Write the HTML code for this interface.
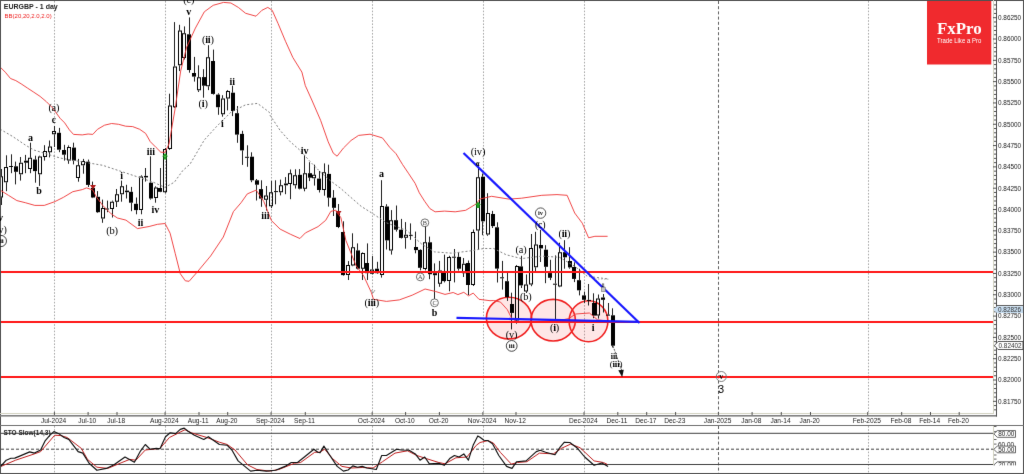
<!DOCTYPE html><html><head><meta charset="utf-8"><style>html,body{margin:0;padding:0;background:#fff;}body{width:1024px;height:474px;overflow:hidden;position:relative;}#wrap{position:absolute;left:0;top:0;width:1024px;height:474px;will-change:transform;}svg{display:block;position:absolute;left:0;top:0;}text{font-family:"Liberation Sans",sans-serif;}.ser{font-family:"Liberation Serif",serif;}</style></head><body>
<div id="wrap">
<svg width="1024" height="474" viewBox="0 0 1024 474">
<defs><filter id="soft" x="0" y="0" width="1024" height="474" filterUnits="userSpaceOnUse" color-interpolation-filters="sRGB"><feConvolveMatrix order="3" kernelMatrix="0 1 0 1 12 1 0 1 0" divisor="16" edgeMode="duplicate"/></filter></defs>
<g filter="url(#soft)">
<rect x="0" y="0" width="1024" height="474" fill="#ffffff"/>
<line x1="54.5" y1="1" x2="54.5" y2="413" stroke="#a8a8a8" stroke-width="1" stroke-dasharray="1.6,1.6"/>
<line x1="54.5" y1="426" x2="54.5" y2="473" stroke="#a8a8a8" stroke-width="1" stroke-dasharray="1.6,1.6"/>
<line x1="165.5" y1="1" x2="165.5" y2="413" stroke="#a8a8a8" stroke-width="1" stroke-dasharray="1.6,1.6"/>
<line x1="165.5" y1="426" x2="165.5" y2="473" stroke="#a8a8a8" stroke-width="1" stroke-dasharray="1.6,1.6"/>
<line x1="271.5" y1="1" x2="271.5" y2="413" stroke="#a8a8a8" stroke-width="1" stroke-dasharray="1.6,1.6"/>
<line x1="271.5" y1="426" x2="271.5" y2="473" stroke="#a8a8a8" stroke-width="1" stroke-dasharray="1.6,1.6"/>
<line x1="372.5" y1="1" x2="372.5" y2="413" stroke="#a8a8a8" stroke-width="1" stroke-dasharray="1.6,1.6"/>
<line x1="372.5" y1="426" x2="372.5" y2="473" stroke="#a8a8a8" stroke-width="1" stroke-dasharray="1.6,1.6"/>
<line x1="483.5" y1="1" x2="483.5" y2="413" stroke="#a8a8a8" stroke-width="1" stroke-dasharray="1.6,1.6"/>
<line x1="483.5" y1="426" x2="483.5" y2="473" stroke="#a8a8a8" stroke-width="1" stroke-dasharray="1.6,1.6"/>
<line x1="584.5" y1="1" x2="584.5" y2="413" stroke="#a8a8a8" stroke-width="1" stroke-dasharray="1.6,1.6"/>
<line x1="584.5" y1="426" x2="584.5" y2="473" stroke="#a8a8a8" stroke-width="1" stroke-dasharray="1.6,1.6"/>
<line x1="868.5" y1="1" x2="868.5" y2="413" stroke="#a8a8a8" stroke-width="1" stroke-dasharray="1.6,1.6"/>
<line x1="868.5" y1="426" x2="868.5" y2="473" stroke="#a8a8a8" stroke-width="1" stroke-dasharray="1.6,1.6"/>
<line x1="718.5" y1="1" x2="718.5" y2="413" stroke="#606060" stroke-width="1" stroke-dasharray="3,2.2"/>
<line x1="718.5" y1="426" x2="718.5" y2="473" stroke="#606060" stroke-width="1" stroke-dasharray="3,2.2"/>
<ellipse cx="509" cy="318.1" rx="22.6" ry="20.8" fill="rgba(248,90,90,0.15)" stroke="#f02020" stroke-width="1.6"/>
<ellipse cx="553.2" cy="320.2" rx="22.2" ry="20.8" fill="rgba(248,90,90,0.15)" stroke="#f02020" stroke-width="1.6"/>
<ellipse cx="588.5" cy="321.2" rx="19.4" ry="20.5" fill="rgba(248,90,90,0.15)" stroke="#f02020" stroke-width="1.6"/>
<line x1="1.5" y1="169" x2="1.5" y2="176.3" stroke="#202020" stroke-width="1"/>
<line x1="1.5" y1="197.4" x2="1.5" y2="205" stroke="#202020" stroke-width="1"/>
<path d="M-1,176.3h4v21.1h-4z M0,177.3h2v19.1h-2z" fill="#000" fill-rule="evenodd"/>
<line x1="6.5" y1="155.3" x2="6.5" y2="166.9" stroke="#202020" stroke-width="1"/>
<line x1="6.5" y1="182.3" x2="6.5" y2="191.2" stroke="#202020" stroke-width="1"/>
<path d="M4,166.9h4v15.4h-4z M5,167.9h2v13.4h-2z" fill="#000" fill-rule="evenodd"/>
<line x1="11.5" y1="154.3" x2="11.5" y2="166" stroke="#202020" stroke-width="1"/>
<line x1="11.5" y1="167" x2="11.5" y2="173.2" stroke="#202020" stroke-width="1"/>
<rect x="9" y="166" width="4" height="1" fill="#000"/>
<line x1="15.5" y1="161.6" x2="15.5" y2="166.3" stroke="#202020" stroke-width="1"/>
<line x1="15.5" y1="171.8" x2="15.5" y2="184.4" stroke="#202020" stroke-width="1"/>
<rect x="14" y="166.3" width="4" height="5.5" fill="#000"/>
<line x1="20.5" y1="157" x2="20.5" y2="162.7" stroke="#202020" stroke-width="1"/>
<line x1="20.5" y1="174.3" x2="20.5" y2="180.6" stroke="#202020" stroke-width="1"/>
<path d="M19,162.7h4v11.6h-4z M20,163.7h2v9.6h-2z" fill="#000" fill-rule="evenodd"/>
<line x1="25.5" y1="154.9" x2="25.5" y2="160.7" stroke="#202020" stroke-width="1"/>
<line x1="25.5" y1="162.7" x2="25.5" y2="173.2" stroke="#202020" stroke-width="1"/>
<rect x="24" y="160.7" width="4" height="2" fill="#000"/>
<line x1="30.5" y1="142.7" x2="30.5" y2="157.8" stroke="#202020" stroke-width="1"/>
<line x1="30.5" y1="169" x2="30.5" y2="173.2" stroke="#202020" stroke-width="1"/>
<path d="M28,157.8h4v11.2h-4z M29,158.8h2v9.2h-2z" fill="#000" fill-rule="evenodd"/>
<line x1="35.5" y1="155.7" x2="35.5" y2="159.5" stroke="#202020" stroke-width="1"/>
<line x1="35.5" y1="171.1" x2="35.5" y2="182.7" stroke="#202020" stroke-width="1"/>
<rect x="33" y="159.5" width="4" height="11.6" fill="#000"/>
<line x1="39.5" y1="155.7" x2="39.5" y2="156.4" stroke="#202020" stroke-width="1"/>
<line x1="39.5" y1="174.3" x2="39.5" y2="185.9" stroke="#202020" stroke-width="1"/>
<path d="M38,156.4h4v17.9h-4z M39,157.4h2v15.9h-2z" fill="#000" fill-rule="evenodd"/>
<line x1="44.5" y1="145.2" x2="44.5" y2="151.1" stroke="#202020" stroke-width="1"/>
<line x1="44.5" y1="157" x2="44.5" y2="160.6" stroke="#202020" stroke-width="1"/>
<path d="M43,151.1h4v5.9h-4z M44,152.1h2v3.9h-2z" fill="#000" fill-rule="evenodd"/>
<line x1="49.5" y1="140.5" x2="49.5" y2="146.5" stroke="#202020" stroke-width="1"/>
<line x1="49.5" y1="152.2" x2="49.5" y2="157.4" stroke="#202020" stroke-width="1"/>
<path d="M48,146.5h4v5.7h-4z M49,147.5h2v3.7h-2z" fill="#000" fill-rule="evenodd"/>
<line x1="54.5" y1="126" x2="54.5" y2="131.1" stroke="#202020" stroke-width="1"/>
<line x1="54.5" y1="134.3" x2="54.5" y2="147" stroke="#202020" stroke-width="1"/>
<path d="M52,131.1h4v3.2h-4z M53,132.1h2v1.2h-2z" fill="#000" fill-rule="evenodd"/>
<line x1="59.5" y1="127.9" x2="59.5" y2="132.8" stroke="#202020" stroke-width="1"/>
<line x1="59.5" y1="149.7" x2="59.5" y2="152.2" stroke="#202020" stroke-width="1"/>
<rect x="57" y="132.8" width="4" height="16.9" fill="#000"/>
<line x1="64.5" y1="144.8" x2="64.5" y2="150" stroke="#202020" stroke-width="1"/>
<line x1="64.5" y1="154.7" x2="64.5" y2="160.6" stroke="#202020" stroke-width="1"/>
<rect x="62" y="150" width="4" height="4.7" fill="#000"/>
<line x1="68.5" y1="145.4" x2="68.5" y2="146.9" stroke="#202020" stroke-width="1"/>
<line x1="68.5" y1="160.6" x2="68.5" y2="163.8" stroke="#202020" stroke-width="1"/>
<path d="M67,146.9h4v13.7h-4z M68,147.9h2v11.7h-2z" fill="#000" fill-rule="evenodd"/>
<line x1="73.5" y1="142.7" x2="73.5" y2="147.6" stroke="#202020" stroke-width="1"/>
<line x1="73.5" y1="160.6" x2="73.5" y2="164.4" stroke="#202020" stroke-width="1"/>
<rect x="72" y="147.6" width="4" height="13" fill="#000"/>
<line x1="78.5" y1="158.9" x2="78.5" y2="165.3" stroke="#202020" stroke-width="1"/>
<line x1="78.5" y1="177.9" x2="78.5" y2="181.7" stroke="#202020" stroke-width="1"/>
<path d="M76,165.3h4v12.6h-4z M77,166.3h2v10.6h-2z" fill="#000" fill-rule="evenodd"/>
<line x1="83.5" y1="158.9" x2="83.5" y2="161" stroke="#202020" stroke-width="1"/>
<line x1="83.5" y1="165.3" x2="83.5" y2="173.7" stroke="#202020" stroke-width="1"/>
<path d="M81,161h4v4.3h-4z M82,162h2v2.3h-2z" fill="#000" fill-rule="evenodd"/>
<line x1="88.5" y1="159.6" x2="88.5" y2="161.7" stroke="#202020" stroke-width="1"/>
<line x1="88.5" y1="184.9" x2="88.5" y2="187" stroke="#202020" stroke-width="1"/>
<rect x="86" y="161.7" width="4" height="23.2" fill="#000"/>
<line x1="92.5" y1="181.6" x2="92.5" y2="188" stroke="#202020" stroke-width="1"/>
<line x1="92.5" y1="197.5" x2="92.5" y2="198.1" stroke="#202020" stroke-width="1"/>
<rect x="91" y="188" width="4" height="9.5" fill="#000"/>
<line x1="97.5" y1="191.1" x2="97.5" y2="196.8" stroke="#202020" stroke-width="1"/>
<line x1="97.5" y1="212.2" x2="97.5" y2="212.9" stroke="#202020" stroke-width="1"/>
<rect x="96" y="196.8" width="4" height="15.4" fill="#000"/>
<line x1="102.5" y1="199.6" x2="102.5" y2="208" stroke="#202020" stroke-width="1"/>
<line x1="102.5" y1="218.6" x2="102.5" y2="222.8" stroke="#202020" stroke-width="1"/>
<path d="M101,208h4v10.6h-4z M102,209h2v8.6h-2z" fill="#000" fill-rule="evenodd"/>
<line x1="107.5" y1="200.6" x2="107.5" y2="208.5" stroke="#202020" stroke-width="1"/>
<line x1="107.5" y1="209.5" x2="107.5" y2="212.2" stroke="#202020" stroke-width="1"/>
<rect x="105" y="208.5" width="4" height="1" fill="#000"/>
<line x1="112.5" y1="200.6" x2="112.5" y2="201.7" stroke="#202020" stroke-width="1"/>
<line x1="112.5" y1="209" x2="112.5" y2="217.5" stroke="#202020" stroke-width="1"/>
<path d="M110,201.7h4v7.3h-4z M111,202.7h2v5.3h-2z" fill="#000" fill-rule="evenodd"/>
<line x1="116.5" y1="189" x2="116.5" y2="194.3" stroke="#202020" stroke-width="1"/>
<line x1="116.5" y1="201.7" x2="116.5" y2="207" stroke="#202020" stroke-width="1"/>
<path d="M115,194.3h4v7.4h-4z M116,195.3h2v5.4h-2z" fill="#000" fill-rule="evenodd"/>
<line x1="121.5" y1="180.6" x2="121.5" y2="186.3" stroke="#202020" stroke-width="1"/>
<line x1="121.5" y1="194.3" x2="121.5" y2="201.7" stroke="#202020" stroke-width="1"/>
<path d="M120,186.3h4v8h-4z M121,187.3h2v6h-2z" fill="#000" fill-rule="evenodd"/>
<line x1="126.5" y1="184.8" x2="126.5" y2="190.6" stroke="#202020" stroke-width="1"/>
<line x1="126.5" y1="192.2" x2="126.5" y2="198.5" stroke="#202020" stroke-width="1"/>
<rect x="125" y="190.6" width="4" height="1.6" fill="#000"/>
<line x1="131.5" y1="186.9" x2="131.5" y2="191.8" stroke="#202020" stroke-width="1"/>
<line x1="131.5" y1="202.7" x2="131.5" y2="211.2" stroke="#202020" stroke-width="1"/>
<rect x="129" y="191.8" width="4" height="10.9" fill="#000"/>
<line x1="136.5" y1="197.5" x2="136.5" y2="203.8" stroke="#202020" stroke-width="1"/>
<line x1="136.5" y1="210.1" x2="136.5" y2="214.3" stroke="#202020" stroke-width="1"/>
<rect x="134" y="203.8" width="4" height="6.3" fill="#000"/>
<line x1="141.5" y1="175.3" x2="141.5" y2="176.4" stroke="#202020" stroke-width="1"/>
<line x1="141.5" y1="210.1" x2="141.5" y2="214.3" stroke="#202020" stroke-width="1"/>
<path d="M139,176.4h4v33.7h-4z M140,177.4h2v31.7h-2z" fill="#000" fill-rule="evenodd"/>
<line x1="145.5" y1="168" x2="145.5" y2="175.9" stroke="#202020" stroke-width="1"/>
<line x1="145.5" y1="177.4" x2="145.5" y2="181.6" stroke="#202020" stroke-width="1"/>
<rect x="144" y="175.9" width="4" height="1.5" fill="#000"/>
<line x1="150.5" y1="156.3" x2="150.5" y2="182.7" stroke="#202020" stroke-width="1"/>
<line x1="150.5" y1="198.5" x2="150.5" y2="199.6" stroke="#202020" stroke-width="1"/>
<rect x="149" y="182.7" width="4" height="15.8" fill="#000"/>
<line x1="155.5" y1="186.3" x2="155.5" y2="187.6" stroke="#202020" stroke-width="1"/>
<line x1="155.5" y1="198.1" x2="155.5" y2="202.7" stroke="#202020" stroke-width="1"/>
<path d="M154,187.6h4v10.5h-4z M155,188.6h2v8.5h-2z" fill="#000" fill-rule="evenodd"/>
<line x1="160.5" y1="168" x2="160.5" y2="188" stroke="#202020" stroke-width="1"/>
<line x1="160.5" y1="191.8" x2="160.5" y2="192.2" stroke="#202020" stroke-width="1"/>
<rect x="158" y="188" width="4" height="3.8" fill="#000"/>
<line x1="165.5" y1="148" x2="165.5" y2="149.1" stroke="#202020" stroke-width="1"/>
<line x1="165.5" y1="192.2" x2="165.5" y2="193.2" stroke="#202020" stroke-width="1"/>
<path d="M163,149.1h4v43.1h-4z M164,150.1h2v41.1h-2z" fill="#000" fill-rule="evenodd"/>
<line x1="169.5" y1="93.7" x2="169.5" y2="105.6" stroke="#202020" stroke-width="1"/>
<line x1="169.5" y1="149.1" x2="169.5" y2="150" stroke="#202020" stroke-width="1"/>
<path d="M168,105.6h4v43.5h-4z M169,106.6h2v41.5h-2z" fill="#000" fill-rule="evenodd"/>
<line x1="174.5" y1="22.1" x2="174.5" y2="66.4" stroke="#202020" stroke-width="1"/>
<line x1="174.5" y1="107.2" x2="174.5" y2="108" stroke="#202020" stroke-width="1"/>
<path d="M173,66.4h4v40.8h-4z M174,67.4h2v38.8h-2z" fill="#000" fill-rule="evenodd"/>
<line x1="179.5" y1="24.8" x2="179.5" y2="30.6" stroke="#202020" stroke-width="1"/>
<line x1="179.5" y1="65.3" x2="179.5" y2="71.1" stroke="#202020" stroke-width="1"/>
<path d="M178,30.6h4v34.7h-4z M179,31.6h2v32.7h-2z" fill="#000" fill-rule="evenodd"/>
<line x1="184.5" y1="26.4" x2="184.5" y2="33.2" stroke="#202020" stroke-width="1"/>
<line x1="184.5" y1="58" x2="184.5" y2="59.5" stroke="#202020" stroke-width="1"/>
<path d="M182,33.2h4v24.8h-4z M183,34.2h2v22.8h-2z" fill="#000" fill-rule="evenodd"/>
<line x1="189.5" y1="17.4" x2="189.5" y2="34.3" stroke="#202020" stroke-width="1"/>
<line x1="189.5" y1="70" x2="189.5" y2="72.7" stroke="#202020" stroke-width="1"/>
<rect x="187" y="34.3" width="4" height="35.7" fill="#000"/>
<line x1="194.5" y1="56.9" x2="194.5" y2="73" stroke="#202020" stroke-width="1"/>
<line x1="194.5" y1="76.6" x2="194.5" y2="81.6" stroke="#202020" stroke-width="1"/>
<rect x="192" y="73" width="4" height="3.6" fill="#000"/>
<line x1="198.5" y1="65.3" x2="198.5" y2="77.2" stroke="#202020" stroke-width="1"/>
<line x1="198.5" y1="90.3" x2="198.5" y2="92" stroke="#202020" stroke-width="1"/>
<path d="M197,77.2h4v13.1h-4z M198,78.2h2v11.1h-2z" fill="#000" fill-rule="evenodd"/>
<line x1="203.5" y1="69.2" x2="203.5" y2="77.1" stroke="#202020" stroke-width="1"/>
<line x1="203.5" y1="85.7" x2="203.5" y2="97.7" stroke="#202020" stroke-width="1"/>
<rect x="202" y="77.1" width="4" height="8.6" fill="#000"/>
<line x1="208.5" y1="45.2" x2="208.5" y2="57.2" stroke="#202020" stroke-width="1"/>
<line x1="208.5" y1="86.3" x2="208.5" y2="90.1" stroke="#202020" stroke-width="1"/>
<path d="M206,57.2h4v29.1h-4z M207,58.2h2v27.1h-2z" fill="#000" fill-rule="evenodd"/>
<line x1="213.5" y1="49.6" x2="213.5" y2="61" stroke="#202020" stroke-width="1"/>
<line x1="213.5" y1="93.9" x2="213.5" y2="94.6" stroke="#202020" stroke-width="1"/>
<rect x="211" y="61" width="4" height="32.9" fill="#000"/>
<line x1="218.5" y1="93.3" x2="218.5" y2="94.6" stroke="#202020" stroke-width="1"/>
<line x1="218.5" y1="107.2" x2="218.5" y2="114.8" stroke="#202020" stroke-width="1"/>
<rect x="216" y="94.6" width="4" height="12.6" fill="#000"/>
<line x1="222.5" y1="95.2" x2="222.5" y2="98.4" stroke="#202020" stroke-width="1"/>
<line x1="222.5" y1="114.2" x2="222.5" y2="116.7" stroke="#202020" stroke-width="1"/>
<path d="M221,98.4h4v15.8h-4z M222,99.4h2v13.8h-2z" fill="#000" fill-rule="evenodd"/>
<line x1="227.5" y1="90.1" x2="227.5" y2="91.1" stroke="#202020" stroke-width="1"/>
<line x1="227.5" y1="98.4" x2="227.5" y2="110.4" stroke="#202020" stroke-width="1"/>
<path d="M226,91.1h4v7.3h-4z M227,92.1h2v5.3h-2z" fill="#000" fill-rule="evenodd"/>
<line x1="232.5" y1="85.7" x2="232.5" y2="92.7" stroke="#202020" stroke-width="1"/>
<line x1="232.5" y1="111" x2="232.5" y2="116.1" stroke="#202020" stroke-width="1"/>
<rect x="231" y="92.7" width="4" height="18.3" fill="#000"/>
<line x1="237.5" y1="106" x2="237.5" y2="113.2" stroke="#202020" stroke-width="1"/>
<line x1="237.5" y1="134.6" x2="237.5" y2="142.8" stroke="#202020" stroke-width="1"/>
<rect x="235" y="113.2" width="4" height="21.4" fill="#000"/>
<line x1="242.5" y1="130.8" x2="242.5" y2="133.9" stroke="#202020" stroke-width="1"/>
<line x1="242.5" y1="150.4" x2="242.5" y2="164.9" stroke="#202020" stroke-width="1"/>
<rect x="240" y="133.9" width="4" height="16.5" fill="#000"/>
<line x1="247.5" y1="145.3" x2="247.5" y2="156.8" stroke="#202020" stroke-width="1"/>
<line x1="247.5" y1="157.8" x2="247.5" y2="166.8" stroke="#202020" stroke-width="1"/>
<rect x="245" y="156.8" width="4" height="1" fill="#000"/>
<line x1="251.5" y1="152.3" x2="251.5" y2="156.7" stroke="#202020" stroke-width="1"/>
<line x1="251.5" y1="180.3" x2="251.5" y2="182.2" stroke="#202020" stroke-width="1"/>
<rect x="250" y="156.7" width="4" height="23.6" fill="#000"/>
<line x1="256.5" y1="179" x2="256.5" y2="180.3" stroke="#202020" stroke-width="1"/>
<line x1="256.5" y1="184.7" x2="256.5" y2="200.5" stroke="#202020" stroke-width="1"/>
<rect x="255" y="180.3" width="4" height="4.4" fill="#000"/>
<line x1="261.5" y1="180.3" x2="261.5" y2="189.1" stroke="#202020" stroke-width="1"/>
<line x1="261.5" y1="198.6" x2="261.5" y2="206.8" stroke="#202020" stroke-width="1"/>
<rect x="259" y="189.1" width="4" height="9.5" fill="#000"/>
<line x1="266.5" y1="186" x2="266.5" y2="195.6" stroke="#202020" stroke-width="1"/>
<line x1="266.5" y1="199.8" x2="266.5" y2="210.6" stroke="#202020" stroke-width="1"/>
<path d="M264,195.6h4v4.2h-4z M265,196.6h2v2.2h-2z" fill="#000" fill-rule="evenodd"/>
<line x1="271.5" y1="180.9" x2="271.5" y2="192.3" stroke="#202020" stroke-width="1"/>
<line x1="271.5" y1="206.2" x2="271.5" y2="208.1" stroke="#202020" stroke-width="1"/>
<path d="M269,192.3h4v13.9h-4z M270,193.3h2v11.9h-2z" fill="#000" fill-rule="evenodd"/>
<line x1="275.5" y1="180.3" x2="275.5" y2="191.1" stroke="#202020" stroke-width="1"/>
<line x1="275.5" y1="192.1" x2="275.5" y2="204.3" stroke="#202020" stroke-width="1"/>
<rect x="274" y="191.1" width="4" height="1" fill="#000"/>
<line x1="280.5" y1="179.6" x2="280.5" y2="185.3" stroke="#202020" stroke-width="1"/>
<line x1="280.5" y1="192.3" x2="280.5" y2="195.4" stroke="#202020" stroke-width="1"/>
<path d="M279,185.3h4v7h-4z M280,186.3h2v5h-2z" fill="#000" fill-rule="evenodd"/>
<line x1="285.5" y1="177.1" x2="285.5" y2="183.5" stroke="#202020" stroke-width="1"/>
<line x1="285.5" y1="185.3" x2="285.5" y2="194.2" stroke="#202020" stroke-width="1"/>
<rect x="284" y="183.5" width="4" height="1.8" fill="#000"/>
<line x1="290.5" y1="169.5" x2="290.5" y2="173.3" stroke="#202020" stroke-width="1"/>
<line x1="290.5" y1="184" x2="290.5" y2="199.2" stroke="#202020" stroke-width="1"/>
<path d="M288,173.3h4v10.7h-4z M289,174.3h2v8.7h-2z" fill="#000" fill-rule="evenodd"/>
<line x1="295.5" y1="169.3" x2="295.5" y2="175.3" stroke="#202020" stroke-width="1"/>
<line x1="295.5" y1="185.3" x2="295.5" y2="188.6" stroke="#202020" stroke-width="1"/>
<path d="M293,175.3h4v10h-4z M294,176.3h2v8h-2z" fill="#000" fill-rule="evenodd"/>
<line x1="299.5" y1="169.1" x2="299.5" y2="174.8" stroke="#202020" stroke-width="1"/>
<line x1="299.5" y1="188.7" x2="299.5" y2="189.4" stroke="#202020" stroke-width="1"/>
<rect x="298" y="174.8" width="4" height="13.9" fill="#000"/>
<line x1="304.5" y1="155.2" x2="304.5" y2="173.2" stroke="#202020" stroke-width="1"/>
<line x1="304.5" y1="188.7" x2="304.5" y2="191.3" stroke="#202020" stroke-width="1"/>
<path d="M303,173.2h4v15.5h-4z M304,174.2h2v13.5h-2z" fill="#000" fill-rule="evenodd"/>
<line x1="309.5" y1="162.2" x2="309.5" y2="173.2" stroke="#202020" stroke-width="1"/>
<line x1="309.5" y1="177.7" x2="309.5" y2="181.1" stroke="#202020" stroke-width="1"/>
<rect x="308" y="173.2" width="4" height="4.5" fill="#000"/>
<line x1="314.5" y1="164.7" x2="314.5" y2="174.8" stroke="#202020" stroke-width="1"/>
<line x1="314.5" y1="178.3" x2="314.5" y2="185.6" stroke="#202020" stroke-width="1"/>
<path d="M312,174.8h4v3.5h-4z M313,175.8h2v1.5h-2z" fill="#000" fill-rule="evenodd"/>
<line x1="319.5" y1="171" x2="319.5" y2="178.6" stroke="#202020" stroke-width="1"/>
<line x1="319.5" y1="190" x2="319.5" y2="192.5" stroke="#202020" stroke-width="1"/>
<rect x="317" y="178.6" width="4" height="11.4" fill="#000"/>
<line x1="324.5" y1="163.4" x2="324.5" y2="172.3" stroke="#202020" stroke-width="1"/>
<line x1="324.5" y1="190" x2="324.5" y2="195.7" stroke="#202020" stroke-width="1"/>
<path d="M322,172.3h4v17.7h-4z M323,173.3h2v15.7h-2z" fill="#000" fill-rule="evenodd"/>
<line x1="328.5" y1="164.7" x2="328.5" y2="173.9" stroke="#202020" stroke-width="1"/>
<line x1="328.5" y1="197.7" x2="328.5" y2="206.6" stroke="#202020" stroke-width="1"/>
<rect x="327" y="173.9" width="4" height="23.8" fill="#000"/>
<line x1="333.5" y1="190.1" x2="333.5" y2="197.7" stroke="#202020" stroke-width="1"/>
<line x1="333.5" y1="207.8" x2="333.5" y2="216" stroke="#202020" stroke-width="1"/>
<rect x="332" y="197.7" width="4" height="10.1" fill="#000"/>
<line x1="338.5" y1="204" x2="338.5" y2="212.3" stroke="#202020" stroke-width="1"/>
<line x1="338.5" y1="227" x2="338.5" y2="228.1" stroke="#202020" stroke-width="1"/>
<rect x="336" y="212.3" width="4" height="14.7" fill="#000"/>
<line x1="343.5" y1="221.3" x2="343.5" y2="232" stroke="#202020" stroke-width="1"/>
<line x1="343.5" y1="275.1" x2="343.5" y2="275.7" stroke="#202020" stroke-width="1"/>
<rect x="341" y="232" width="4" height="43.1" fill="#000"/>
<line x1="348.5" y1="261.1" x2="348.5" y2="265" stroke="#202020" stroke-width="1"/>
<line x1="348.5" y1="275.1" x2="348.5" y2="280" stroke="#202020" stroke-width="1"/>
<path d="M346,265h4v10.1h-4z M347,266h2v8.1h-2z" fill="#000" fill-rule="evenodd"/>
<line x1="352.5" y1="233.3" x2="352.5" y2="247.2" stroke="#202020" stroke-width="1"/>
<line x1="352.5" y1="265.6" x2="352.5" y2="266.2" stroke="#202020" stroke-width="1"/>
<path d="M351,247.2h4v18.4h-4z M352,248.2h2v16.4h-2z" fill="#000" fill-rule="evenodd"/>
<line x1="357.5" y1="243.4" x2="357.5" y2="250.4" stroke="#202020" stroke-width="1"/>
<line x1="357.5" y1="268.7" x2="357.5" y2="269.4" stroke="#202020" stroke-width="1"/>
<rect x="356" y="250.4" width="4" height="18.3" fill="#000"/>
<line x1="362.5" y1="252.3" x2="362.5" y2="252.9" stroke="#202020" stroke-width="1"/>
<line x1="362.5" y1="268.7" x2="362.5" y2="280" stroke="#202020" stroke-width="1"/>
<path d="M361,252.9h4v15.8h-4z M362,253.9h2v13.8h-2z" fill="#000" fill-rule="evenodd"/>
<line x1="367.5" y1="243.4" x2="367.5" y2="263" stroke="#202020" stroke-width="1"/>
<line x1="367.5" y1="273.2" x2="367.5" y2="280" stroke="#202020" stroke-width="1"/>
<rect x="365" y="263" width="4" height="10.2" fill="#000"/>
<line x1="372.5" y1="256.1" x2="372.5" y2="269.4" stroke="#202020" stroke-width="1"/>
<line x1="372.5" y1="273.8" x2="372.5" y2="274.4" stroke="#202020" stroke-width="1"/>
<path d="M370,269.4h4v4.4h-4z M371,270.4h2v2.4h-2z" fill="#000" fill-rule="evenodd"/>
<line x1="377.5" y1="261.8" x2="377.5" y2="268.7" stroke="#202020" stroke-width="1"/>
<line x1="377.5" y1="273.2" x2="377.5" y2="273.8" stroke="#202020" stroke-width="1"/>
<rect x="375" y="268.7" width="4" height="4.5" fill="#000"/>
<line x1="381.5" y1="180.2" x2="381.5" y2="206.1" stroke="#202020" stroke-width="1"/>
<line x1="381.5" y1="275.1" x2="381.5" y2="277.6" stroke="#202020" stroke-width="1"/>
<path d="M380,206.1h4v69h-4z M381,207.1h2v67h-2z" fill="#000" fill-rule="evenodd"/>
<line x1="386.5" y1="204.2" x2="386.5" y2="206.5" stroke="#202020" stroke-width="1"/>
<line x1="386.5" y1="240.4" x2="386.5" y2="249.5" stroke="#202020" stroke-width="1"/>
<rect x="385" y="206.5" width="4" height="33.9" fill="#000"/>
<line x1="391.5" y1="210.1" x2="391.5" y2="220.2" stroke="#202020" stroke-width="1"/>
<line x1="391.5" y1="250.6" x2="391.5" y2="254.6" stroke="#202020" stroke-width="1"/>
<path d="M389,220.2h4v30.4h-4z M390,221.2h2v28.4h-2z" fill="#000" fill-rule="evenodd"/>
<line x1="396.5" y1="205.5" x2="396.5" y2="220.2" stroke="#202020" stroke-width="1"/>
<line x1="396.5" y1="229.7" x2="396.5" y2="231.6" stroke="#202020" stroke-width="1"/>
<rect x="394" y="220.2" width="4" height="9.5" fill="#000"/>
<line x1="401.5" y1="218.9" x2="401.5" y2="229.7" stroke="#202020" stroke-width="1"/>
<line x1="401.5" y1="237.9" x2="401.5" y2="238.5" stroke="#202020" stroke-width="1"/>
<rect x="399" y="229.7" width="4" height="8.2" fill="#000"/>
<line x1="405.5" y1="222.1" x2="405.5" y2="234.7" stroke="#202020" stroke-width="1"/>
<line x1="405.5" y1="237.7" x2="405.5" y2="248.7" stroke="#202020" stroke-width="1"/>
<path d="M404,234.7h4v3h-4z M405,235.7h2v1h-2z" fill="#000" fill-rule="evenodd"/>
<line x1="410.5" y1="223.4" x2="410.5" y2="234.9" stroke="#202020" stroke-width="1"/>
<line x1="410.5" y1="235.9" x2="410.5" y2="239.8" stroke="#202020" stroke-width="1"/>
<rect x="409" y="234.9" width="4" height="1" fill="#000"/>
<line x1="415.5" y1="231.6" x2="415.5" y2="247" stroke="#202020" stroke-width="1"/>
<line x1="415.5" y1="250.1" x2="415.5" y2="253.3" stroke="#202020" stroke-width="1"/>
<rect x="414" y="247" width="4" height="3.1" fill="#000"/>
<line x1="420.5" y1="249.3" x2="420.5" y2="249.9" stroke="#202020" stroke-width="1"/>
<line x1="420.5" y1="267.8" x2="420.5" y2="270.4" stroke="#202020" stroke-width="1"/>
<rect x="418" y="249.9" width="4" height="17.9" fill="#000"/>
<line x1="425.5" y1="225.9" x2="425.5" y2="242.3" stroke="#202020" stroke-width="1"/>
<line x1="425.5" y1="268.9" x2="425.5" y2="270.4" stroke="#202020" stroke-width="1"/>
<path d="M423,242.3h4v26.6h-4z M424,243.3h2v24.6h-2z" fill="#000" fill-rule="evenodd"/>
<line x1="429.5" y1="236.6" x2="429.5" y2="242.3" stroke="#202020" stroke-width="1"/>
<line x1="429.5" y1="274.2" x2="429.5" y2="279.2" stroke="#202020" stroke-width="1"/>
<rect x="428" y="242.3" width="4" height="31.9" fill="#000"/>
<line x1="434.5" y1="263.4" x2="434.5" y2="273.2" stroke="#202020" stroke-width="1"/>
<line x1="434.5" y1="275.2" x2="434.5" y2="299" stroke="#202020" stroke-width="1"/>
<rect x="433" y="273.2" width="4" height="2" fill="#000"/>
<line x1="439.5" y1="260.9" x2="439.5" y2="270.4" stroke="#202020" stroke-width="1"/>
<line x1="439.5" y1="283.7" x2="439.5" y2="286.8" stroke="#202020" stroke-width="1"/>
<path d="M438,270.4h4v13.3h-4z M439,271.4h2v11.3h-2z" fill="#000" fill-rule="evenodd"/>
<line x1="444.5" y1="254.6" x2="444.5" y2="272.3" stroke="#202020" stroke-width="1"/>
<line x1="444.5" y1="281.1" x2="444.5" y2="282.4" stroke="#202020" stroke-width="1"/>
<rect x="442" y="272.3" width="4" height="8.8" fill="#000"/>
<line x1="449.5" y1="255.8" x2="449.5" y2="257.1" stroke="#202020" stroke-width="1"/>
<line x1="449.5" y1="281.1" x2="449.5" y2="291.3" stroke="#202020" stroke-width="1"/>
<path d="M447,257.1h4v24h-4z M448,258.1h2v22h-2z" fill="#000" fill-rule="evenodd"/>
<line x1="454.5" y1="249" x2="454.5" y2="256.7" stroke="#202020" stroke-width="1"/>
<line x1="454.5" y1="257.7" x2="454.5" y2="282.4" stroke="#202020" stroke-width="1"/>
<rect x="452" y="256.7" width="4" height="1" fill="#000"/>
<line x1="458.5" y1="252.3" x2="458.5" y2="256.9" stroke="#202020" stroke-width="1"/>
<line x1="458.5" y1="268.7" x2="458.5" y2="270.6" stroke="#202020" stroke-width="1"/>
<rect x="457" y="256.9" width="4" height="11.8" fill="#000"/>
<line x1="463.5" y1="258" x2="463.5" y2="263.7" stroke="#202020" stroke-width="1"/>
<line x1="463.5" y1="273.2" x2="463.5" y2="277" stroke="#202020" stroke-width="1"/>
<path d="M462,263.7h4v9.5h-4z M463,264.7h2v7.5h-2z" fill="#000" fill-rule="evenodd"/>
<line x1="468.5" y1="260.5" x2="468.5" y2="263" stroke="#202020" stroke-width="1"/>
<line x1="468.5" y1="285" x2="468.5" y2="295" stroke="#202020" stroke-width="1"/>
<rect x="466" y="263" width="4" height="22" fill="#000"/>
<line x1="473.5" y1="229.5" x2="473.5" y2="232" stroke="#202020" stroke-width="1"/>
<line x1="473.5" y1="285" x2="473.5" y2="286" stroke="#202020" stroke-width="1"/>
<path d="M471,232h4v53h-4z M472,233h2v51h-2z" fill="#000" fill-rule="evenodd"/>
<line x1="478.5" y1="162.8" x2="478.5" y2="177.3" stroke="#202020" stroke-width="1"/>
<line x1="478.5" y1="230.4" x2="478.5" y2="250" stroke="#202020" stroke-width="1"/>
<path d="M476,177.3h4v53.1h-4z M477,178.3h2v51.1h-2z" fill="#000" fill-rule="evenodd"/>
<line x1="482.5" y1="173.5" x2="482.5" y2="176.7" stroke="#202020" stroke-width="1"/>
<line x1="482.5" y1="221.3" x2="482.5" y2="235.2" stroke="#202020" stroke-width="1"/>
<rect x="481" y="176.7" width="4" height="44.6" fill="#000"/>
<line x1="487.5" y1="193.2" x2="487.5" y2="213" stroke="#202020" stroke-width="1"/>
<line x1="487.5" y1="234.6" x2="487.5" y2="235.8" stroke="#202020" stroke-width="1"/>
<path d="M486,213h4v21.6h-4z M487,214h2v19.6h-2z" fill="#000" fill-rule="evenodd"/>
<line x1="492.5" y1="210.9" x2="492.5" y2="214" stroke="#202020" stroke-width="1"/>
<line x1="492.5" y1="226.1" x2="492.5" y2="228" stroke="#202020" stroke-width="1"/>
<rect x="491" y="214" width="4" height="12.1" fill="#000"/>
<line x1="497.5" y1="222.3" x2="497.5" y2="227.3" stroke="#202020" stroke-width="1"/>
<line x1="497.5" y1="268.6" x2="497.5" y2="282.5" stroke="#202020" stroke-width="1"/>
<rect x="495" y="227.3" width="4" height="41.3" fill="#000"/>
<line x1="502.5" y1="260.9" x2="502.5" y2="277.3" stroke="#202020" stroke-width="1"/>
<line x1="502.5" y1="278.3" x2="502.5" y2="289.6" stroke="#202020" stroke-width="1"/>
<rect x="500" y="277.3" width="4" height="1" fill="#000"/>
<line x1="507.5" y1="271.9" x2="507.5" y2="281.2" stroke="#202020" stroke-width="1"/>
<line x1="507.5" y1="297.1" x2="507.5" y2="300.9" stroke="#202020" stroke-width="1"/>
<rect x="505" y="281.2" width="4" height="15.9" fill="#000"/>
<line x1="511.5" y1="292.7" x2="511.5" y2="304" stroke="#202020" stroke-width="1"/>
<line x1="511.5" y1="312.9" x2="511.5" y2="329.4" stroke="#202020" stroke-width="1"/>
<rect x="510" y="304" width="4" height="8.9" fill="#000"/>
<line x1="516.5" y1="265.1" x2="516.5" y2="266" stroke="#202020" stroke-width="1"/>
<line x1="516.5" y1="320.5" x2="516.5" y2="323.7" stroke="#202020" stroke-width="1"/>
<path d="M515,266h4v54.5h-4z M516,267h2v52.5h-2z" fill="#000" fill-rule="evenodd"/>
<line x1="521.5" y1="255.8" x2="521.5" y2="266.4" stroke="#202020" stroke-width="1"/>
<line x1="521.5" y1="285.4" x2="521.5" y2="288" stroke="#202020" stroke-width="1"/>
<rect x="519" y="266.4" width="4" height="19" fill="#000"/>
<line x1="526.5" y1="274.4" x2="526.5" y2="284.5" stroke="#202020" stroke-width="1"/>
<line x1="526.5" y1="291.4" x2="526.5" y2="293" stroke="#202020" stroke-width="1"/>
<path d="M524,284.5h4v6.9h-4z M525,285.5h2v4.9h-2z" fill="#000" fill-rule="evenodd"/>
<line x1="531.5" y1="234" x2="531.5" y2="248" stroke="#202020" stroke-width="1"/>
<line x1="531.5" y1="284.5" x2="531.5" y2="286.2" stroke="#202020" stroke-width="1"/>
<path d="M529,248h4v36.5h-4z M530,249h2v34.5h-2z" fill="#000" fill-rule="evenodd"/>
<line x1="535.5" y1="231.8" x2="535.5" y2="244.6" stroke="#202020" stroke-width="1"/>
<line x1="535.5" y1="267.3" x2="535.5" y2="271.8" stroke="#202020" stroke-width="1"/>
<path d="M534,244.6h4v22.7h-4z M535,245.6h2v20.7h-2z" fill="#000" fill-rule="evenodd"/>
<line x1="540.5" y1="229.9" x2="540.5" y2="245" stroke="#202020" stroke-width="1"/>
<line x1="540.5" y1="248.4" x2="540.5" y2="262" stroke="#202020" stroke-width="1"/>
<rect x="539" y="245" width="4" height="3.4" fill="#000"/>
<line x1="545.5" y1="245.2" x2="545.5" y2="249.7" stroke="#202020" stroke-width="1"/>
<line x1="545.5" y1="266.8" x2="545.5" y2="283.2" stroke="#202020" stroke-width="1"/>
<rect x="544" y="249.7" width="4" height="17.1" fill="#000"/>
<line x1="550.5" y1="259.8" x2="550.5" y2="273.1" stroke="#202020" stroke-width="1"/>
<line x1="550.5" y1="277.8" x2="550.5" y2="280.1" stroke="#202020" stroke-width="1"/>
<rect x="548" y="273.1" width="4" height="4.7" fill="#000"/>
<line x1="555.5" y1="255.4" x2="555.5" y2="283.7" stroke="#202020" stroke-width="1"/>
<line x1="555.5" y1="284.7" x2="555.5" y2="319.2" stroke="#202020" stroke-width="1"/>
<rect x="553" y="283.7" width="4" height="1" fill="#000"/>
<line x1="559.5" y1="242.7" x2="559.5" y2="252.2" stroke="#202020" stroke-width="1"/>
<line x1="559.5" y1="286.5" x2="559.5" y2="287.2" stroke="#202020" stroke-width="1"/>
<path d="M558,252.2h4v34.3h-4z M559,253.2h2v32.3h-2z" fill="#000" fill-rule="evenodd"/>
<line x1="564.5" y1="240.2" x2="564.5" y2="252.2" stroke="#202020" stroke-width="1"/>
<line x1="564.5" y1="257.3" x2="564.5" y2="268.7" stroke="#202020" stroke-width="1"/>
<rect x="563" y="252.2" width="4" height="5.1" fill="#000"/>
<line x1="569.5" y1="247.2" x2="569.5" y2="261" stroke="#202020" stroke-width="1"/>
<line x1="569.5" y1="267.4" x2="569.5" y2="268.7" stroke="#202020" stroke-width="1"/>
<rect x="568" y="261" width="4" height="6.4" fill="#000"/>
<line x1="574.5" y1="262.3" x2="574.5" y2="266.9" stroke="#202020" stroke-width="1"/>
<line x1="574.5" y1="278.9" x2="574.5" y2="282.1" stroke="#202020" stroke-width="1"/>
<rect x="572" y="266.9" width="4" height="12" fill="#000"/>
<line x1="579.5" y1="268.8" x2="579.5" y2="280.2" stroke="#202020" stroke-width="1"/>
<line x1="579.5" y1="290.3" x2="579.5" y2="295.4" stroke="#202020" stroke-width="1"/>
<rect x="577" y="280.2" width="4" height="10.1" fill="#000"/>
<line x1="584.5" y1="291.6" x2="584.5" y2="295.4" stroke="#202020" stroke-width="1"/>
<line x1="584.5" y1="299.8" x2="584.5" y2="303" stroke="#202020" stroke-width="1"/>
<rect x="582" y="295.4" width="4" height="4.4" fill="#000"/>
<line x1="588.5" y1="284" x2="588.5" y2="299.9" stroke="#202020" stroke-width="1"/>
<line x1="588.5" y1="300.9" x2="588.5" y2="305.5" stroke="#202020" stroke-width="1"/>
<rect x="587" y="299.9" width="4" height="1" fill="#000"/>
<line x1="593.5" y1="293.3" x2="593.5" y2="303" stroke="#202020" stroke-width="1"/>
<line x1="593.5" y1="315.6" x2="593.5" y2="318.2" stroke="#202020" stroke-width="1"/>
<rect x="592" y="303" width="4" height="12.6" fill="#000"/>
<line x1="598.5" y1="294.5" x2="598.5" y2="298.5" stroke="#202020" stroke-width="1"/>
<line x1="598.5" y1="315.5" x2="598.5" y2="318.6" stroke="#202020" stroke-width="1"/>
<path d="M596,298.5h4v17h-4z M597,299.5h2v15h-2z" fill="#000" fill-rule="evenodd"/>
<line x1="603.5" y1="294" x2="603.5" y2="297.5" stroke="#202020" stroke-width="1"/>
<line x1="603.5" y1="299.8" x2="603.5" y2="312.5" stroke="#202020" stroke-width="1"/>
<rect x="601" y="297.5" width="4" height="2.3" fill="#000"/>
<line x1="608.5" y1="303" x2="608.5" y2="314.6" stroke="#202020" stroke-width="1"/>
<line x1="608.5" y1="315.6" x2="608.5" y2="315.7" stroke="#202020" stroke-width="1"/>
<rect x="606" y="314.6" width="4" height="1" fill="#000"/>
<line x1="612.5" y1="308.3" x2="612.5" y2="315.3" stroke="#202020" stroke-width="1"/>
<line x1="612.5" y1="345.7" x2="612.5" y2="347.5" stroke="#202020" stroke-width="1"/>
<rect x="611" y="315.3" width="4" height="30.4" fill="#000"/>
<polyline points="0,66.9 5.3,72.2 10.5,78.5 15.8,80.6 21.1,83.8 27.4,88 33.8,92.2 40.1,96.4 46.4,101.7 52.7,108 60,118.2 64.7,122.9 69.4,129.9 73.5,134.4 82.3,134.9 88.1,134 92.8,134.4 97.5,129.3 104.5,125.2 111.6,123.5 118.6,124.3 125.6,126.2 132.7,126.6 139.7,129.3 145.6,133.4 150.3,141.7 156.1,147.5 160.8,152.2 164.9,152.4 169,144 174.9,110 180.7,70.9 186.6,47.3 195.4,28.1 204.3,11.8 213.2,5.3 223.5,2.4 230.9,3 238.3,7.4 245.6,13.3 256,16.2 261.9,10.3 267.8,7.4 272.2,10.3 278.1,23.6 285.5,41.3 292.9,57.6 301.9,72.1 305.3,85.6 311.8,100 320.6,120.3 328.2,141.8 333.3,153.2 337.1,156.2 343.4,148.1 351,140.5 358.6,135.4 370,134.2 382.4,137.9 389.8,147.4 396.1,153.8 402.4,164.3 408.8,173.8 415.1,183.3 419.3,192.8 424.6,201.2 429.9,208.6 435.1,211.8 444.6,211.1 455.2,211.8 465.7,210.3 476,204 480,199 491.6,196.3 508.9,199.1 521.6,198.2 541.8,195.3 557,194.6 567.1,195.3 574.7,213 582.3,223.2 588.6,237.8 594.9,236.3 607.6,236.3" fill="none" stroke="#ee3333" stroke-width="0.9" stroke-linejoin="round"/>
<polyline points="0,190 8.4,195.3 16.9,200.6 25.3,202.7 34.8,205.4 44.3,205.4 54.9,201.6 63.3,197.4 72.8,191.7 82.3,189.6 86.5,187.9 92.8,190 96.3,196.9 102.7,205.4 111.1,213.8 117.4,218 125.9,220.1 137.5,228.6 149.1,226.5 157.5,224.3 165.1,223.5 170.1,233.2 175.2,253.4 180.3,273.7 185.3,280.8 189.1,281.3 198,271.1 210.6,256 223.3,237 233.4,211.6 241,202.8 247.3,193.9 256.2,190.1 263.8,201.5 271.4,220.5 280.1,229.1 290.3,234.2 299.9,238.5 305.4,232.9 318.1,226.6 325.7,220.3 330.8,211.4 335.8,210.1 340.9,217.7 345.9,240.5 356.1,265.8 363.7,275.9 371.3,292.4 373.5,299.3 386.4,301.4 399.3,299.9 412.2,295.2 425.1,289 435.6,291.5 445,294.4 453.2,292.5 457.9,294.6 463.8,292.3 468.5,295.8 473.2,293.1 479,299.3 490,300.7 493.7,300.5 500.5,302.1 507.3,309.6 511.4,317.8 516.9,322 532,322 555,321.5 568.9,318.5 575.7,314 589.4,313 593.5,316.4 597.6,319.9 607.6,321" fill="none" stroke="#ee3333" stroke-width="0.9" stroke-linejoin="round"/>
<polyline points="0,129.1 12.7,136.5 25.3,145 33.8,150 60,158 90,163.2 102.7,165.3 115.3,169.5 128,173.7 140.6,177.9 153.3,182.2 164.9,187.4 174.4,182.2 182.8,170.5 190,164.2 204.3,140 216.1,127 230.9,112.2 245.6,104.8 257.5,103.4 269.3,112.2 270,115.2 280.1,130.4 290.3,141.8 300.4,150.6 310.5,162 320.6,172.2 330.8,181 340.9,188.6 351,197.5 361.1,206.3 371.3,212.7 386.5,222.8 406.7,230.4 421.9,244.3 434.6,251.9 452.3,253.2 472.5,250.6 483.5,248.5 493.7,248.5 506.3,254.8 521.5,258.6 541.8,256.1 559.5,257.3 574.7,266.2 587.3,276.3 607.6,278.9" fill="none" stroke="#808080" stroke-width="1" stroke-dasharray="2,2"/>
<line x1="0" y1="272" x2="993" y2="272" stroke="#ff1818" stroke-width="2"/>
<line x1="0" y1="322" x2="993" y2="322" stroke="#ff1818" stroke-width="2"/>
<line x1="0" y1="377" x2="993" y2="377" stroke="#ff1818" stroke-width="2"/>
<line x1="463.5" y1="153" x2="639.5" y2="323" stroke="#1a1aff" stroke-width="2.2"/>
<line x1="456.5" y1="317.8" x2="639" y2="321.8" stroke="#1a1aff" stroke-width="2.2"/>
<polygon points="90,185 96,185 93,189.5" fill="#b01818"/>
<polygon points="335.5,211 341.5,211 338.5,215.5" fill="#b01818"/>
<polygon points="165.1,153 162.1,156.5 168.1,156.5" fill="#22a022"/><rect x="163.6" y="156.5" width="3" height="3" fill="#22a022"/>
<polygon points="478,201.8 475,205 481,205" fill="#22a022"/><rect x="476.5" y="205" width="3" height="3" fill="#22a022"/>
<rect x="0" y="0" width="1024" height="1" fill="#505050"/>
<rect x="0" y="0" width="1" height="474" fill="#505050"/>
<rect x="1023" y="0" width="1" height="474" fill="#505050"/>
<rect x="0" y="473" width="1024" height="1" fill="#505050"/>
<rect x="0" y="413" width="994" height="1" fill="#d4d4c4"/>
<rect x="993" y="0" width="1" height="414" fill="#d4d4c4"/>
<rect x="0" y="415" width="997" height="1.6" fill="#808080"/>
<rect x="996" y="0" width="1" height="416.5" fill="#505050"/>
<rect x="0" y="425" width="1024" height="1" fill="#707070"/>
<rect x="993" y="426" width="1" height="39" fill="#d4d4c4"/>
<line x1="994" y1="4.91" x2="996" y2="4.91" stroke="#505050" stroke-width="1"/>
<line x1="994" y1="9.17" x2="996" y2="9.17" stroke="#505050" stroke-width="1"/>
<line x1="994" y1="13.44" x2="996" y2="13.44" stroke="#505050" stroke-width="1"/>
<line x1="993" y1="17.7" x2="996" y2="17.7" stroke="#505050" stroke-width="1"/>
<text x="998" y="20" font-size="6.4" fill="#202020">0.86250</text>
<line x1="994" y1="21.96" x2="996" y2="21.96" stroke="#505050" stroke-width="1"/>
<line x1="994" y1="26.23" x2="996" y2="26.23" stroke="#505050" stroke-width="1"/>
<line x1="994" y1="30.49" x2="996" y2="30.49" stroke="#505050" stroke-width="1"/>
<line x1="994" y1="34.75" x2="996" y2="34.75" stroke="#505050" stroke-width="1"/>
<line x1="993" y1="39.01" x2="996" y2="39.01" stroke="#505050" stroke-width="1"/>
<text x="998" y="41.31" font-size="6.4" fill="#202020">0.86000</text>
<line x1="994" y1="43.28" x2="996" y2="43.28" stroke="#505050" stroke-width="1"/>
<line x1="994" y1="47.54" x2="996" y2="47.54" stroke="#505050" stroke-width="1"/>
<line x1="994" y1="51.8" x2="996" y2="51.8" stroke="#505050" stroke-width="1"/>
<line x1="994" y1="56.06" x2="996" y2="56.06" stroke="#505050" stroke-width="1"/>
<line x1="993" y1="60.33" x2="996" y2="60.33" stroke="#505050" stroke-width="1"/>
<text x="998" y="62.63" font-size="6.4" fill="#202020">0.85750</text>
<line x1="994" y1="64.59" x2="996" y2="64.59" stroke="#505050" stroke-width="1"/>
<line x1="994" y1="68.85" x2="996" y2="68.85" stroke="#505050" stroke-width="1"/>
<line x1="994" y1="73.11" x2="996" y2="73.11" stroke="#505050" stroke-width="1"/>
<line x1="994" y1="77.38" x2="996" y2="77.38" stroke="#505050" stroke-width="1"/>
<line x1="993" y1="81.64" x2="996" y2="81.64" stroke="#505050" stroke-width="1"/>
<text x="998" y="83.94" font-size="6.4" fill="#202020">0.85500</text>
<line x1="994" y1="85.9" x2="996" y2="85.9" stroke="#505050" stroke-width="1"/>
<line x1="994" y1="90.16" x2="996" y2="90.16" stroke="#505050" stroke-width="1"/>
<line x1="994" y1="94.43" x2="996" y2="94.43" stroke="#505050" stroke-width="1"/>
<line x1="994" y1="98.69" x2="996" y2="98.69" stroke="#505050" stroke-width="1"/>
<line x1="993" y1="102.95" x2="996" y2="102.95" stroke="#505050" stroke-width="1"/>
<text x="998" y="105.25" font-size="6.4" fill="#202020">0.85250</text>
<line x1="994" y1="107.21" x2="996" y2="107.21" stroke="#505050" stroke-width="1"/>
<line x1="994" y1="111.48" x2="996" y2="111.48" stroke="#505050" stroke-width="1"/>
<line x1="994" y1="115.74" x2="996" y2="115.74" stroke="#505050" stroke-width="1"/>
<line x1="994" y1="120" x2="996" y2="120" stroke="#505050" stroke-width="1"/>
<line x1="993" y1="124.26" x2="996" y2="124.26" stroke="#505050" stroke-width="1"/>
<text x="998" y="126.56" font-size="6.4" fill="#202020">0.85000</text>
<line x1="994" y1="128.53" x2="996" y2="128.53" stroke="#505050" stroke-width="1"/>
<line x1="994" y1="132.79" x2="996" y2="132.79" stroke="#505050" stroke-width="1"/>
<line x1="994" y1="137.05" x2="996" y2="137.05" stroke="#505050" stroke-width="1"/>
<line x1="994" y1="141.31" x2="996" y2="141.31" stroke="#505050" stroke-width="1"/>
<line x1="993" y1="145.58" x2="996" y2="145.58" stroke="#505050" stroke-width="1"/>
<text x="998" y="147.88" font-size="6.4" fill="#202020">0.84750</text>
<line x1="994" y1="149.84" x2="996" y2="149.84" stroke="#505050" stroke-width="1"/>
<line x1="994" y1="154.1" x2="996" y2="154.1" stroke="#505050" stroke-width="1"/>
<line x1="994" y1="158.36" x2="996" y2="158.36" stroke="#505050" stroke-width="1"/>
<line x1="994" y1="162.63" x2="996" y2="162.63" stroke="#505050" stroke-width="1"/>
<line x1="993" y1="166.89" x2="996" y2="166.89" stroke="#505050" stroke-width="1"/>
<text x="998" y="169.19" font-size="6.4" fill="#202020">0.84500</text>
<line x1="994" y1="171.15" x2="996" y2="171.15" stroke="#505050" stroke-width="1"/>
<line x1="994" y1="175.41" x2="996" y2="175.41" stroke="#505050" stroke-width="1"/>
<line x1="994" y1="179.68" x2="996" y2="179.68" stroke="#505050" stroke-width="1"/>
<line x1="994" y1="183.94" x2="996" y2="183.94" stroke="#505050" stroke-width="1"/>
<line x1="993" y1="188.2" x2="996" y2="188.2" stroke="#505050" stroke-width="1"/>
<text x="998" y="190.5" font-size="6.4" fill="#202020">0.84250</text>
<line x1="994" y1="192.46" x2="996" y2="192.46" stroke="#505050" stroke-width="1"/>
<line x1="994" y1="196.73" x2="996" y2="196.73" stroke="#505050" stroke-width="1"/>
<line x1="994" y1="200.99" x2="996" y2="200.99" stroke="#505050" stroke-width="1"/>
<line x1="994" y1="205.25" x2="996" y2="205.25" stroke="#505050" stroke-width="1"/>
<line x1="993" y1="209.51" x2="996" y2="209.51" stroke="#505050" stroke-width="1"/>
<text x="998" y="211.81" font-size="6.4" fill="#202020">0.84000</text>
<line x1="994" y1="213.78" x2="996" y2="213.78" stroke="#505050" stroke-width="1"/>
<line x1="994" y1="218.04" x2="996" y2="218.04" stroke="#505050" stroke-width="1"/>
<line x1="994" y1="222.3" x2="996" y2="222.3" stroke="#505050" stroke-width="1"/>
<line x1="994" y1="226.56" x2="996" y2="226.56" stroke="#505050" stroke-width="1"/>
<line x1="993" y1="230.83" x2="996" y2="230.83" stroke="#505050" stroke-width="1"/>
<text x="998" y="233.13" font-size="6.4" fill="#202020">0.83750</text>
<line x1="994" y1="235.09" x2="996" y2="235.09" stroke="#505050" stroke-width="1"/>
<line x1="994" y1="239.35" x2="996" y2="239.35" stroke="#505050" stroke-width="1"/>
<line x1="994" y1="243.61" x2="996" y2="243.61" stroke="#505050" stroke-width="1"/>
<line x1="994" y1="247.88" x2="996" y2="247.88" stroke="#505050" stroke-width="1"/>
<line x1="993" y1="252.14" x2="996" y2="252.14" stroke="#505050" stroke-width="1"/>
<text x="998" y="254.44" font-size="6.4" fill="#202020">0.83500</text>
<line x1="994" y1="256.4" x2="996" y2="256.4" stroke="#505050" stroke-width="1"/>
<line x1="994" y1="260.66" x2="996" y2="260.66" stroke="#505050" stroke-width="1"/>
<line x1="994" y1="264.93" x2="996" y2="264.93" stroke="#505050" stroke-width="1"/>
<line x1="994" y1="269.19" x2="996" y2="269.19" stroke="#505050" stroke-width="1"/>
<line x1="993" y1="273.45" x2="996" y2="273.45" stroke="#505050" stroke-width="1"/>
<text x="998" y="275.75" font-size="6.4" fill="#202020">0.83250</text>
<line x1="994" y1="277.71" x2="996" y2="277.71" stroke="#505050" stroke-width="1"/>
<line x1="994" y1="281.98" x2="996" y2="281.98" stroke="#505050" stroke-width="1"/>
<line x1="994" y1="286.24" x2="996" y2="286.24" stroke="#505050" stroke-width="1"/>
<line x1="994" y1="290.5" x2="996" y2="290.5" stroke="#505050" stroke-width="1"/>
<line x1="993" y1="294.76" x2="996" y2="294.76" stroke="#505050" stroke-width="1"/>
<text x="998" y="297.06" font-size="6.4" fill="#202020">0.83000</text>
<line x1="994" y1="299.03" x2="996" y2="299.03" stroke="#505050" stroke-width="1"/>
<line x1="994" y1="303.29" x2="996" y2="303.29" stroke="#505050" stroke-width="1"/>
<line x1="994" y1="307.55" x2="996" y2="307.55" stroke="#505050" stroke-width="1"/>
<line x1="994" y1="311.81" x2="996" y2="311.81" stroke="#505050" stroke-width="1"/>
<line x1="993" y1="316.08" x2="996" y2="316.08" stroke="#505050" stroke-width="1"/>
<text x="998" y="318.38" font-size="6.4" fill="#202020">0.82750</text>
<line x1="994" y1="320.34" x2="996" y2="320.34" stroke="#505050" stroke-width="1"/>
<line x1="994" y1="324.6" x2="996" y2="324.6" stroke="#505050" stroke-width="1"/>
<line x1="994" y1="328.86" x2="996" y2="328.86" stroke="#505050" stroke-width="1"/>
<line x1="994" y1="333.13" x2="996" y2="333.13" stroke="#505050" stroke-width="1"/>
<line x1="993" y1="337.39" x2="996" y2="337.39" stroke="#505050" stroke-width="1"/>
<text x="998" y="339.69" font-size="6.4" fill="#202020">0.82500</text>
<line x1="994" y1="341.65" x2="996" y2="341.65" stroke="#505050" stroke-width="1"/>
<line x1="994" y1="345.91" x2="996" y2="345.91" stroke="#505050" stroke-width="1"/>
<line x1="994" y1="350.18" x2="996" y2="350.18" stroke="#505050" stroke-width="1"/>
<line x1="994" y1="354.44" x2="996" y2="354.44" stroke="#505050" stroke-width="1"/>
<line x1="993" y1="358.7" x2="996" y2="358.7" stroke="#505050" stroke-width="1"/>
<text x="998" y="361" font-size="6.4" fill="#202020">0.82250</text>
<line x1="994" y1="362.96" x2="996" y2="362.96" stroke="#505050" stroke-width="1"/>
<line x1="994" y1="367.23" x2="996" y2="367.23" stroke="#505050" stroke-width="1"/>
<line x1="994" y1="371.49" x2="996" y2="371.49" stroke="#505050" stroke-width="1"/>
<line x1="994" y1="375.75" x2="996" y2="375.75" stroke="#505050" stroke-width="1"/>
<line x1="993" y1="380.01" x2="996" y2="380.01" stroke="#505050" stroke-width="1"/>
<text x="998" y="382.31" font-size="6.4" fill="#202020">0.82000</text>
<line x1="994" y1="384.28" x2="996" y2="384.28" stroke="#505050" stroke-width="1"/>
<line x1="994" y1="388.54" x2="996" y2="388.54" stroke="#505050" stroke-width="1"/>
<line x1="994" y1="392.8" x2="996" y2="392.8" stroke="#505050" stroke-width="1"/>
<line x1="994" y1="397.06" x2="996" y2="397.06" stroke="#505050" stroke-width="1"/>
<line x1="993" y1="401.33" x2="996" y2="401.33" stroke="#505050" stroke-width="1"/>
<text x="998" y="403.63" font-size="6.4" fill="#202020">0.81750</text>
<line x1="994" y1="405.59" x2="996" y2="405.59" stroke="#505050" stroke-width="1"/>
<line x1="994" y1="409.85" x2="996" y2="409.85" stroke="#505050" stroke-width="1"/>
<polygon points="993.3,309.8 997,306.3 1023,306.3 1023,313 997,313" fill="#c6dcef"/>
<rect x="997" y="305" width="26" height="1" fill="#606060"/>
<text x="998" y="312.2" font-size="6.4" fill="#303030">0.82826</text>
<polygon points="994.4,345.5 998,341.5 1023,341.5 1023,349.5 998,349.5" fill="#fff" stroke="#333" stroke-width="0.8"/>
<text x="998.5" y="347.8" font-size="6.4" fill="#303030">0.82402</text>
<line x1="54.4" y1="412" x2="54.4" y2="415" stroke="#505050" stroke-width="1"/>
<text x="53.6" y="423" font-size="6.6" fill="#202020" text-anchor="middle">Jul-2024</text>
<line x1="88.1" y1="412" x2="88.1" y2="415" stroke="#505050" stroke-width="1"/>
<text x="87.3" y="423" font-size="6.6" fill="#202020" text-anchor="middle">Jul-10</text>
<line x1="117" y1="412" x2="117" y2="415" stroke="#505050" stroke-width="1"/>
<text x="116.2" y="423" font-size="6.6" fill="#202020" text-anchor="middle">Jul-18</text>
<line x1="165.1" y1="412" x2="165.1" y2="415" stroke="#505050" stroke-width="1"/>
<text x="164.3" y="423" font-size="6.6" fill="#202020" text-anchor="middle">Aug-2024</text>
<line x1="199" y1="412" x2="199" y2="415" stroke="#505050" stroke-width="1"/>
<text x="198.2" y="423" font-size="6.6" fill="#202020" text-anchor="middle">Aug-11</text>
<line x1="227.7" y1="412" x2="227.7" y2="415" stroke="#505050" stroke-width="1"/>
<text x="226.9" y="423" font-size="6.6" fill="#202020" text-anchor="middle">Aug-20</text>
<line x1="271.1" y1="412" x2="271.1" y2="415" stroke="#505050" stroke-width="1"/>
<text x="270.3" y="423" font-size="6.6" fill="#202020" text-anchor="middle">Sep-2024</text>
<line x1="305.3" y1="412" x2="305.3" y2="415" stroke="#505050" stroke-width="1"/>
<text x="304.5" y="423" font-size="6.6" fill="#202020" text-anchor="middle">Sep-11</text>
<line x1="372.2" y1="412" x2="372.2" y2="415" stroke="#505050" stroke-width="1"/>
<text x="371.4" y="423" font-size="6.6" fill="#202020" text-anchor="middle">Oct-2024</text>
<line x1="405.6" y1="412" x2="405.6" y2="415" stroke="#505050" stroke-width="1"/>
<text x="404.8" y="423" font-size="6.6" fill="#202020" text-anchor="middle">Oct-10</text>
<line x1="439.4" y1="412" x2="439.4" y2="415" stroke="#505050" stroke-width="1"/>
<text x="438.6" y="423" font-size="6.6" fill="#202020" text-anchor="middle">Oct-20</text>
<line x1="482.9" y1="412" x2="482.9" y2="415" stroke="#505050" stroke-width="1"/>
<text x="482.1" y="423" font-size="6.6" fill="#202020" text-anchor="middle">Nov-2024</text>
<line x1="516" y1="412" x2="516" y2="415" stroke="#505050" stroke-width="1"/>
<text x="515.2" y="423" font-size="6.6" fill="#202020" text-anchor="middle">Nov-12</text>
<line x1="584.05" y1="412" x2="584.05" y2="415" stroke="#505050" stroke-width="1"/>
<text x="583.25" y="423" font-size="6.6" fill="#202020" text-anchor="middle">Dec-2024</text>
<line x1="617.8" y1="412" x2="617.8" y2="415" stroke="#505050" stroke-width="1"/>
<text x="617" y="423" font-size="6.6" fill="#202020" text-anchor="middle">Dec-11</text>
<line x1="646.7" y1="412" x2="646.7" y2="415" stroke="#505050" stroke-width="1"/>
<text x="645.9" y="423" font-size="6.6" fill="#202020" text-anchor="middle">Dec-17</text>
<line x1="675.6" y1="412" x2="675.6" y2="415" stroke="#505050" stroke-width="1"/>
<text x="674.8" y="423" font-size="6.6" fill="#202020" text-anchor="middle">Dec-23</text>
<line x1="718.4" y1="412" x2="718.4" y2="415" stroke="#505050" stroke-width="1"/>
<text x="717.6" y="423" font-size="6.6" fill="#202020" text-anchor="middle">Jan-2025</text>
<line x1="752.1" y1="412" x2="752.1" y2="415" stroke="#505050" stroke-width="1"/>
<text x="751.3" y="423" font-size="6.6" fill="#202020" text-anchor="middle">Jan-08</text>
<line x1="781.3" y1="412" x2="781.3" y2="415" stroke="#505050" stroke-width="1"/>
<text x="780.5" y="423" font-size="6.6" fill="#202020" text-anchor="middle">Jan-14</text>
<line x1="810.5" y1="412" x2="810.5" y2="415" stroke="#505050" stroke-width="1"/>
<text x="809.7" y="423" font-size="6.6" fill="#202020" text-anchor="middle">Jan-20</text>
<line x1="867.7" y1="412" x2="867.7" y2="415" stroke="#505050" stroke-width="1"/>
<text x="866.9" y="423" font-size="6.6" fill="#202020" text-anchor="middle">Feb-2025</text>
<line x1="901.7" y1="412" x2="901.7" y2="415" stroke="#505050" stroke-width="1"/>
<text x="900.9" y="423" font-size="6.6" fill="#202020" text-anchor="middle">Feb-08</text>
<line x1="930.5" y1="412" x2="930.5" y2="415" stroke="#505050" stroke-width="1"/>
<text x="929.7" y="423" font-size="6.6" fill="#202020" text-anchor="middle">Feb-14</text>
<line x1="959.2" y1="412" x2="959.2" y2="415" stroke="#505050" stroke-width="1"/>
<text x="958.4" y="423" font-size="6.6" fill="#202020" text-anchor="middle">Feb-20</text>
<text x="3.8" y="9" font-size="7" font-weight="bold" fill="#202020">EURGBP - 1 day</text>
<text x="4.6" y="18.2" font-size="6" fill="#ee2020">BB(20,20,2.0,2.0)</text>
<rect x="927" y="1" width="64.3" height="63.5" fill="#f02a2e"/>
<text x="937" y="33.8" font-size="17.5" fill="#fff" font-weight="bold" textLength="44.7" lengthAdjust="spacingAndGlyphs" style="font-family:'Liberation Serif',serif">FxPro</text>
<text x="937" y="42.7" font-size="6.3" fill="#fff" textLength="44.3" lengthAdjust="spacingAndGlyphs">Trade Like a Pro</text>
<line x1="1" y1="433.3" x2="993" y2="433.3" stroke="#404040" stroke-width="1"/>
<line x1="1" y1="449.2" x2="993" y2="449.2" stroke="#404040" stroke-width="1" stroke-dasharray="3,2"/>
<line x1="1" y1="464.5" x2="993" y2="464.5" stroke="#404040" stroke-width="1"/>
<polyline points="1,466.4 15.6,460.2 34.4,453.9 40.6,451.6 54.7,435.2 60.9,435.6 67.2,437.5 81.3,448.4 87.5,459.4 96.9,467.2 107.8,468.4 121.9,462.5 129.7,459.4 135.9,460.2 145.3,450 156.3,448.8 160,448.4 169.4,437.5 178.8,432.8 185,429.7 191.3,432.8 206.9,437.5 219.4,442.2 227.2,444.5 235,450 247.5,464.8 256.9,469.5 269.4,471.1 278.8,469.5 294.4,463.3 300.6,462.5 314.7,452.3 320,452.1 324.7,449.2 332.5,458.6 341.9,466.4 351.3,468 362.2,467.5 373.1,468 382.5,461.7 395,453.1 407.5,450.8 416.9,455.5 426.3,458.6 438.8,462.5 445,463.8 455.9,457.8 466.9,457 476.3,445.3 480,442.5 487.8,440.6 493.3,443 500.3,452.3 511.3,464.1 517.5,462.5 526.9,461.7 539.4,453.1 553.4,453.9 561.3,448.4 570.6,444.1 580,447.7 594.1,460.9 603.4,462.5 607.3,464.4" fill="none" stroke="#c02020" stroke-width="1"/>
<polyline points="1,466 6.25,460.2 10.9,458.3 14.8,458.1 20.3,455.9 29.7,451.9 34.4,453.1 40.6,450 45.3,440.6 50,435.2 53.9,431.6 59.4,434.1 64.1,437.5 68.8,439.4 78.1,451.6 82.8,453.1 89.1,463.3 96.9,470.3 106.3,468.4 114,464.8 125,457 134.4,462.2 140.6,450.8 145.3,444.5 150,449.2 156.3,448.4 160,448.8 165.5,436.7 170.2,432.8 175.6,433.6 180.3,429.4 184.2,428.1 188.1,431.3 194.4,435.2 203.8,439.4 208.4,436.7 219.4,444.5 227.2,445.3 231.9,450 238.1,460.9 250.6,471.1 256.9,470.3 266.3,471.1 275.6,470.3 285,466.4 291.3,462.5 297.5,462.5 305.3,456.3 313.9,449.2 317.8,452.3 320,452.8 323.9,446.1 329.4,454.7 337.2,466.4 343.4,471.1 348.1,470 352.8,465.9 357.5,467.2 362.2,466.4 366.9,468 376.3,469.5 381.7,455.5 386.4,455.5 396.6,449.2 401.3,450 409.1,450.3 415.3,453.9 420,460.2 424.7,457 429.4,463.8 438.8,463.3 444.2,465.3 449.7,458.6 454.4,455.5 459.1,457 463.8,453.9 468.4,460.2 473.1,445.3 477.8,435.9 480,437.2 483.9,440.2 487.8,440.6 492.5,443.8 498.8,455.5 506.6,466.4 512,468.4 516.7,461.7 526.1,460.9 536.3,451.6 540.2,450.3 545.6,452.3 555,454.7 559.7,447.7 564.4,442.2 569.8,442.5 576.9,447.7 584.7,457 594.1,465.3 601.9,463 608.1,466.4" fill="none" stroke="#101010" stroke-width="1.15" stroke-linejoin="round"/>
<text x="3.4" y="435" font-size="6.5" font-weight="bold" fill="#202020">STO Slow(14,3)</text>
<text x="998" y="446.8" font-size="6.4" fill="#202020">60.00</text>
<polygon points="993.8,433.8 997.3,430.6 1015.5,430.6 1015.5,437.3 997.3,437.3" fill="#fff" stroke="#404040" stroke-width="0.8"/>
<text x="998.3" y="436.2" font-size="6.4" fill="#202020">80.00</text>
<polygon points="993.8,449.3 997.3,446.1 1015.5,446.1 1015.5,452.8 997.3,452.8" fill="#fff" stroke="#404040" stroke-width="0.8"/>
<text x="998.3" y="451.7" font-size="6.4" fill="#202020">50.00</text>
<polygon points="993.8,465 997.3,461.8 1015.5,461.8 1015.5,468.5 997.3,468.5" fill="#fff" stroke="#404040" stroke-width="0.8"/>
<text x="998.3" y="467.4" font-size="6.4" fill="#202020">20.00</text>
<rect x="993.2" y="465.4" width="29.5" height="7.4" fill="#fff"/>
<line x1="994" y1="426.5" x2="996.5" y2="426.5" stroke="#505050" stroke-width="0.9"/>
<line x1="994" y1="431.7" x2="996.5" y2="431.7" stroke="#505050" stroke-width="0.9"/>
<line x1="994" y1="439.5" x2="996.5" y2="439.5" stroke="#505050" stroke-width="0.9"/>
<line x1="994" y1="444.1" x2="996.5" y2="444.1" stroke="#505050" stroke-width="0.9"/>
<line x1="994" y1="455" x2="996.5" y2="455" stroke="#505050" stroke-width="0.9"/>
<line x1="994" y1="459.1" x2="996.5" y2="459.1" stroke="#505050" stroke-width="0.9"/>
<text x="53.9" y="122.6" font-size="9.5" text-anchor="middle" fill="#000000" style="font-family:'Liberation Serif',serif;font-weight:bold">c</text>
<text x="30.6" y="140.7" font-size="10" text-anchor="middle" fill="#000000" style="font-family:'Liberation Serif',serif;font-weight:bold">a</text>
<text x="39" y="194" font-size="10" text-anchor="middle" fill="#000000" style="font-family:'Liberation Serif',serif;font-weight:bold">b</text>
<text x="121.7" y="179.4" font-size="10" text-anchor="middle" fill="#000000" style="font-family:'Liberation Serif',serif;font-weight:bold">i</text>
<text x="140.6" y="225.8" font-size="10" text-anchor="middle" fill="#000000" style="font-family:'Liberation Serif',serif;font-weight:bold">ii</text>
<text x="150.8" y="154.8" font-size="10" text-anchor="middle" fill="#000000" style="font-family:'Liberation Serif',serif;font-weight:bold">iii</text>
<text x="155.4" y="213" font-size="10" text-anchor="middle" fill="#000000" style="font-family:'Liberation Serif',serif;font-weight:bold">iv</text>
<text x="188.7" y="14.8" font-size="10" text-anchor="middle" fill="#000000" style="font-family:'Liberation Serif',serif;font-weight:bold">v</text>
<text x="222.5" y="126.7" font-size="10" text-anchor="middle" fill="#000000" style="font-family:'Liberation Serif',serif;font-weight:bold">i</text>
<text x="232.3" y="84.9" font-size="10" text-anchor="middle" fill="#000000" style="font-family:'Liberation Serif',serif;font-weight:bold">ii</text>
<text x="265.3" y="218.7" font-size="10" text-anchor="middle" fill="#000000" style="font-family:'Liberation Serif',serif;font-weight:bold">iii</text>
<text x="304.6" y="153.8" font-size="10" text-anchor="middle" fill="#000000" style="font-family:'Liberation Serif',serif;font-weight:bold">iv</text>
<text x="381.5" y="177.3" font-size="10" text-anchor="middle" fill="#000000" style="font-family:'Liberation Serif',serif;font-weight:bold">a</text>
<text x="477.7" y="165.8" font-size="9" text-anchor="middle" fill="#000000" style="font-family:'Liberation Serif',serif;font-weight:bold">c</text>
<text x="593.2" y="331.1" font-size="10" text-anchor="middle" fill="#000000" style="font-family:'Liberation Serif',serif;font-weight:bold">i</text>
<text x="614" y="359" font-size="8" text-anchor="middle" fill="#000000" style="font-family:'Liberation Serif',serif;font-weight:bold">iii</text>
<text x="0.6" y="220.6" font-size="10" text-anchor="middle" fill="#000000" style="font-family:'Liberation Serif',serif;font-weight:bold">v</text>
<text x="53.8" y="110.9" font-size="10.3" text-anchor="middle" fill="#000" letter-spacing="-0.2" style="font-family:'Liberation Serif',serif">(<tspan font-weight="normal">a</tspan>)</text>
<text x="112" y="233.5" font-size="10.5" text-anchor="middle" fill="#000" letter-spacing="-0.2" style="font-family:'Liberation Serif',serif">(<tspan font-weight="normal">b</tspan>)</text>
<text x="188.7" y="2.7" font-size="10.3" text-anchor="middle" fill="#000" letter-spacing="-0.2" style="font-family:'Liberation Serif',serif">(<tspan font-weight="normal">c</tspan>)</text>
<text x="207.8" y="42.9" font-size="10.3" text-anchor="middle" fill="#000" letter-spacing="-0.2" style="font-family:'Liberation Serif',serif">(<tspan font-weight="bold">ii</tspan>)</text>
<text x="203.1" y="106.9" font-size="10.3" text-anchor="middle" fill="#000" letter-spacing="-0.2" style="font-family:'Liberation Serif',serif">(<tspan font-weight="bold">i</tspan>)</text>
<text x="478" y="154.8" font-size="10.5" text-anchor="middle" fill="#000" letter-spacing="-0.2" style="font-family:'Liberation Serif',serif">(<tspan font-weight="normal">iv</tspan>)</text>
<text x="521" y="252.9" font-size="10.3" text-anchor="middle" fill="#000" letter-spacing="-0.2" style="font-family:'Liberation Serif',serif">(<tspan font-weight="normal">a</tspan>)</text>
<text x="525.8" y="299.8" font-size="10.3" text-anchor="middle" fill="#000" letter-spacing="-0.2" style="font-family:'Liberation Serif',serif">(<tspan font-weight="normal">b</tspan>)</text>
<text x="511.4" y="337.6" font-size="10.3" text-anchor="middle" fill="#000" letter-spacing="-0.2" style="font-family:'Liberation Serif',serif">(<tspan font-weight="normal">v</tspan>)</text>
<text x="540.2" y="227.5" font-size="10" text-anchor="middle" fill="#000" letter-spacing="-0.2" style="font-family:'Liberation Serif',serif">(<tspan font-weight="normal">c</tspan>)</text>
<text x="564.3" y="236.8" font-size="10.3" text-anchor="middle" fill="#000" letter-spacing="-0.2" style="font-family:'Liberation Serif',serif">(<tspan font-weight="bold">ii</tspan>)</text>
<text x="554.5" y="331.3" font-size="10.3" text-anchor="middle" fill="#000" letter-spacing="-0.2" style="font-family:'Liberation Serif',serif">(<tspan font-weight="bold">i</tspan>)</text>
<text x="616" y="366.5" font-size="9" text-anchor="middle" fill="#000" letter-spacing="-0.2" style="font-family:'Liberation Serif',serif">(<tspan font-weight="bold">iii</tspan>)</text>
<text x="1" y="232.5" font-size="10" text-anchor="middle" fill="#000" letter-spacing="-0.2" style="font-family:'Liberation Serif',serif">(<tspan font-weight="normal">v</tspan>)</text>
<text x="371.8" y="306.4" font-size="10.3" text-anchor="middle" fill="#000" letter-spacing="-0.2" style="font-family:'Liberation Serif',serif">(<tspan font-weight="bold">iii</tspan>)</text>
<circle cx="511.7" cy="345.9" r="5.4" fill="none" stroke="#303030" stroke-width="0.9"/>
<text x="511.7" y="348" font-size="7" text-anchor="middle" fill="#000" style="font-family:'Liberation Serif',serif;font-weight:bold">iii</text>
<circle cx="0.9" cy="241" r="5.6" fill="none" stroke="#303030" stroke-width="0.9"/>
<text x="0.9" y="243.1" font-size="7" text-anchor="middle" fill="#000" style="font-family:'Liberation Serif',serif;font-weight:bold">iii</text>
<circle cx="540.6" cy="213.1" r="5.2" fill="none" stroke="#404040" stroke-width="0.9"/>
<text x="540.6" y="215.05" font-size="6.5" text-anchor="middle" fill="#101010" style="font-family:'Liberation Serif',serif;font-weight:bold">iv</text>
<circle cx="424.9" cy="222.8" r="3.9" fill="none" stroke="#606060" stroke-width="0.9"/>
<text x="424.9" y="224.69" font-size="6.3" text-anchor="middle" fill="#404040" style="font-family:'Liberation Serif',serif;">B</text>
<circle cx="420.3" cy="276.9" r="3.9" fill="none" stroke="#606060" stroke-width="0.9"/>
<text x="420.3" y="278.79" font-size="6.3" text-anchor="middle" fill="#404040" style="font-family:'Liberation Serif',serif;">A</text>
<circle cx="434.5" cy="302.8" r="3.9" fill="none" stroke="#606060" stroke-width="0.9"/>
<text x="434.5" y="304.69" font-size="6.3" text-anchor="middle" fill="#404040" style="font-family:'Liberation Serif',serif;">C</text>
<circle cx="721.3" cy="376.5" r="5" fill="none" stroke="#707070" stroke-width="0.9"/>
<text x="721.3" y="378.9" font-size="8" text-anchor="middle" fill="#101010" style="font-family:'Liberation Serif',serif;font-weight:bold">v</text>
<path d="M371,290 L373,293 L375,290" fill="none" stroke="#909090" stroke-width="0.9"/>
<text x="434.5" y="316" font-size="10" text-anchor="middle" fill="#000000" style="font-family:'Liberation Serif',serif;font-weight:bold">b</text>
<text x="721.1" y="392.6" font-size="11" text-anchor="middle" fill="#000">3</text>
<rect x="601.4" y="287.2" width="3.8" height="4.3" fill="#c8c8c8" stroke="#707070" stroke-width="0.6"/>
<text x="603.1" y="286.5" font-size="6" text-anchor="middle" fill="#000000" style="font-family:'Liberation Serif',serif;">ii</text>
<line x1="595" y1="279" x2="608.6" y2="279.2" stroke="#a0a0a0" stroke-width="0.8" stroke-dasharray="1.5,1.5"/>
<polyline points="613,346 622,371" fill="none" stroke="#303030" stroke-width="0.8" stroke-dasharray="2,1"/>
<polygon points="618.3,370.3 623.8,369.8 622.2,377.3" fill="#101010"/>
</g></svg></div></body></html>
